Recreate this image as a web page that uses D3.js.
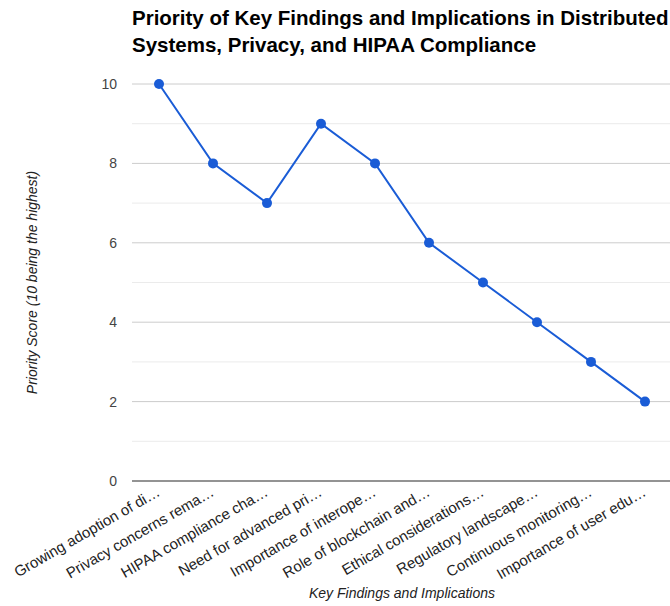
<!DOCTYPE html>
<html>
<head>
<meta charset="utf-8">
<script src="https://cdn.jsdelivr.net/npm/d3@7"></script>
<style>
  html, body { margin: 0; padding: 0; background: #fff; }
  svg { display: block; font-family: "Liberation Sans", Arial, sans-serif; }
</style>
</head>
<body>
<svg id="chart" width="670" height="606"></svg>
<script>
// Findings, as labelled along the x axis
const categories = [
  "Growing adoption of di\u2026",
  "Privacy concerns rema\u2026",
  "HIPAA compliance cha\u2026",
  "Need for advanced pri\u2026",
  "Importance of interope\u2026",
  "Role of blockchain and\u2026",
  "Ethical considerations\u2026",
  "Regulatory landscape\u2026",
  "Continuous monitoring\u2026",
  "Importance of user edu\u2026"
];
// Priority score per finding
const scores = [10, 8, 7, 9, 8, 6, 5, 4, 3, 2];
const majorTicks = [0, 2, 4, 6, 8, 10];
const minorTicks = [1, 3, 5, 7, 9];

const svg = d3.select("#chart");
const plot = { left: 132, right: 672, top: 84, bottom: 481 };

const x = d3.scaleBand().domain(categories).range([plot.left, plot.right]);
const y = d3.scaleLinear().domain([0, 10]).range([plot.bottom, plot.top]);

// Title
const title = svg.append("text")
  .attr("x", 132).attr("y", 25)
  .attr("font-size", 20.5).attr("font-weight", "bold").attr("fill", "#000");
title.append("tspan").attr("x", 132).attr("dy", 0)
  .text("Priority of Key Findings and Implications in Distributed");
title.append("tspan").attr("x", 132).attr("dy", 27)
  .text("Systems, Privacy, and HIPAA Compliance");

// Minor gridlines
svg.append("g").selectAll("line").data(minorTicks).join("line")
  .attr("x1", plot.left).attr("x2", 670)
  .attr("y1", d => y(d)).attr("y2", d => y(d))
  .attr("stroke", "#ebebeb").attr("stroke-width", 1);

// Major gridlines
svg.append("g").selectAll("line").data(majorTicks.filter(d => d !== 0)).join("line")
  .attr("x1", plot.left).attr("x2", 670)
  .attr("y1", d => y(d)).attr("y2", d => y(d))
  .attr("stroke", "#cccccc").attr("stroke-width", 1);

// Y axis labels
const yAxis = svg.append("g")
  .attr("transform", `translate(${plot.left - 15},0)`)
  .call(d3.axisLeft(y).tickValues(majorTicks).tickSize(0).tickPadding(0));
yAxis.select(".domain").remove();
yAxis.selectAll("text")
  .attr("font-size", 14).attr("fill", "#444")
  .attr("font-family", "Liberation Sans, Arial, sans-serif");

// Baseline
svg.append("line")
  .attr("x1", plot.left).attr("x2", 670)
  .attr("y1", y(0)).attr("y2", y(0))
  .attr("stroke", "#333").attr("stroke-width", 1.5).attr("opacity", 0.7);

// X axis labels, rotated
const xAxis = svg.append("g")
  .attr("transform", `translate(0,${plot.bottom})`)
  .call(d3.axisBottom(x).tickSize(0).tickPadding(0));
xAxis.select(".domain").remove();
xAxis.selectAll("text")
  .attr("font-size", 15).attr("fill", "#222")
  .attr("font-family", "Liberation Sans, Arial, sans-serif")
  .attr("text-anchor", "end")
  .attr("dy", null).attr("y", 0)
  .attr("transform", "translate(2,14) rotate(-30)");

// Axis titles
svg.append("text")
  .attr("x", 402).attr("y", 598)
  .attr("text-anchor", "middle").attr("font-size", 14)
  .attr("font-style", "italic").attr("fill", "#222")
  .text("Key Findings and Implications");

svg.append("text")
  .attr("transform", `translate(37,${(plot.top + plot.bottom) / 2}) rotate(-90)`)
  .attr("text-anchor", "middle").attr("font-size", 14)
  .attr("font-style", "italic").attr("fill", "#222")
  .text("Priority Score (10 being the highest)");

// Line and points
const line = d3.line()
  .x((d, i) => x(categories[i]) + x.bandwidth() / 2)
  .y(d => y(d));

svg.append("path").datum(scores)
  .attr("d", line).attr("fill", "none")
  .attr("stroke", "#1a5cd6").attr("stroke-width", 2);

svg.append("g").selectAll("circle").data(scores).join("circle")
  .attr("cx", (d, i) => x(categories[i]) + x.bandwidth() / 2)
  .attr("cy", d => y(d))
  .attr("r", 5)
  .attr("fill", "#1a5cd6");
</script>
</body>
</html>
